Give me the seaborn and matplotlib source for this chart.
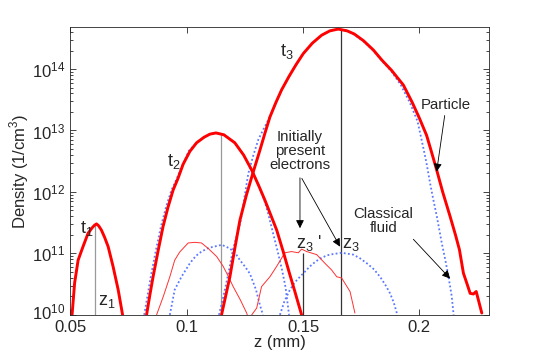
import numpy as np
import pandas as pd
import matplotlib
matplotlib.use('Agg')
import matplotlib.pyplot as plt
import matplotlib.transforms as mtransforms
import seaborn as sns

# values: z in mm, density as log10(1/cm^3)
t1_z = [0.0508, 0.0519, 0.0534, 0.0555, 0.0577, 0.0595, 0.0605, 0.0613, 0.0622, 0.0634, 0.0648,
        0.0663, 0.0684, 0.0706, 0.0725]
t1_logn = [10.0, 10.52, 10.89, 11.11, 11.33, 11.42, 11.46, 11.48, 11.45, 11.38, 11.26,
           11.11, 10.79, 10.41, 10.0]

t2_z = [0.0828, 0.0842, 0.0856, 0.0878, 0.0899, 0.0920, 0.0942, 0.0963, 0.0985, 0.1014, 0.1043,
        0.1075, 0.1100, 0.1126, 0.1160, 0.1207, 0.1245, 0.1279, 0.1310, 0.1336, 0.1362, 0.1387,
        0.1415, 0.1440, 0.1465, 0.1494]
t2_logn = [10.0, 10.32, 10.62, 11.05, 11.44, 11.75, 12.03, 12.22, 12.45, 12.66, 12.80,
           12.89, 12.94, 12.96, 12.93, 12.80, 12.60, 12.36, 12.10, 11.87, 11.62, 11.38,
           11.03, 10.70, 10.38, 10.0]

t3_z = [0.1150, 0.1168, 0.1186, 0.1207, 0.1229, 0.1257, 0.1285, 0.1315, 0.1336, 0.1358, 0.1383,
        0.1408, 0.1440, 0.1470, 0.1501, 0.1540, 0.1580, 0.1615, 0.1651, 0.1690, 0.1720, 0.1760,
        0.1802, 0.1840, 0.1880, 0.1931, 0.1970, 0.2000, 0.2031, 0.2052, 0.2074, 0.2100, 0.2132,
        0.2155, 0.2172, 0.2189, 0.2205, 0.2218, 0.2232, 0.2244, 0.2268]
t3_logn = [10.0, 10.31, 10.62, 11.08, 11.54, 11.95, 12.31, 12.68, 12.95, 13.22, 13.45,
           13.66, 13.88, 14.07, 14.25, 14.42, 14.55, 14.62, 14.65, 14.62, 14.57, 14.46,
           14.31, 14.14, 13.98, 13.74, 13.45, 13.20, 12.92, 12.65, 12.36, 12.00, 11.60,
           11.30, 11.06, 10.68, 10.50, 10.35, 10.34, 10.38, 10.03]

# classical fluid
f2_z = [0.0818, 0.0846, 0.0868, 0.0890, 0.0912, 0.0935, 0.0958, 0.0985, 0.1010, 0.1043, 0.1075,
        0.1100, 0.1126, 0.1160, 0.1207, 0.1245, 0.1279, 0.1310, 0.1336, 0.1350, 0.1370, 0.1390,
        0.1410, 0.1425, 0.1440]
f2_logn = [10.0, 10.62, 11.05, 11.44, 11.76, 12.03, 12.22, 12.46, 12.67, 12.80, 12.89,
           12.94, 12.96, 12.93, 12.80, 12.60, 12.37, 12.10, 11.84, 11.65, 11.35, 11.05,
           10.73, 10.45, 10.0]

f3_z = [0.1139, 0.1155, 0.1169, 0.1185, 0.1199, 0.1215, 0.1231, 0.1248, 0.1265, 0.1287, 0.1308,
        0.1330, 0.1351, 0.1380, 0.1408, 0.1440, 0.1470, 0.1501, 0.1540, 0.1580, 0.1615, 0.1651,
        0.1690, 0.1720, 0.1760, 0.1802, 0.1840, 0.1880, 0.1920, 0.1958, 0.1992, 0.2015, 0.2030,
        0.2046, 0.2060, 0.2075, 0.2096, 0.2112, 0.2125, 0.2139, 0.2147]
f3_logn = [10.0, 10.25, 10.49, 10.78, 11.06, 11.28, 11.50, 11.90, 12.30, 12.60, 12.85,
           13.02, 13.17, 13.42, 13.66, 13.88, 14.07, 14.25, 14.42, 14.55, 14.62, 14.65,
           14.62, 14.56, 14.45, 14.30, 14.13, 13.96, 13.74, 13.46, 13.15, 12.75, 12.48,
           12.14, 11.87, 11.60, 11.17, 10.88, 10.62, 10.30, 10.0]

# initially present electrons, particle
p2_z = [0.0871, 0.0900, 0.0928, 0.0949, 0.0970, 0.0992, 0.1007, 0.1035, 0.1064, 0.1093, 0.1129,
        0.1157, 0.1180, 0.1200, 0.1230, 0.1258, 0.1265]
p2_logn = [10.0, 10.30, 10.62, 10.89, 11.02, 11.11, 11.17, 11.18, 11.17, 11.08, 10.95,
           10.79, 10.62, 10.46, 10.25, 10.03, 9.95]
p3_z = [0.1270, 0.1301, 0.1322, 0.1358, 0.1387, 0.1422, 0.1451, 0.1480, 0.1494, 0.1516, 0.1559,
        0.1594, 0.1623, 0.1645, 0.1666, 0.1702, 0.1723]
p3_logn = [9.95, 10.11, 10.46, 10.62, 10.79, 11.01, 11.03, 11.01, 11.07, 11.03, 10.98,
           10.84, 10.73, 10.62, 10.60, 10.38, 10.03]

# initially present electrons, classical fluid
c2_z = [0.0928, 0.0949, 0.0978, 0.1014, 0.1040, 0.1064, 0.1095, 0.1129, 0.1151, 0.1186, 0.1210,
        0.1229, 0.1250, 0.1272, 0.1298, 0.1315, 0.1328]
c2_logn = [10.0, 10.41, 10.62, 10.84, 10.96, 11.03, 11.09, 11.12, 11.14, 11.08, 11.00,
           10.89, 10.79, 10.67, 10.41, 10.16, 10.0]
c3_z = [0.1401, 0.1420, 0.1444, 0.1465, 0.1487, 0.1510, 0.1530, 0.1555, 0.1580, 0.1605, 0.1630,
        0.1666, 0.1716, 0.1745, 0.1774, 0.1805, 0.1831, 0.1855, 0.1874, 0.1890, 0.1903]
c3_logn = [10.0, 10.22, 10.41, 10.53, 10.62, 10.71, 10.79, 10.87, 10.93, 10.97, 10.99,
           11.01, 10.98, 10.92, 10.84, 10.74, 10.62, 10.48, 10.35, 10.20, 10.03]

# peak markers
mark_z = [0.0608, 0.1146, 0.1498, 0.1663]
mark_logn = [11.48, 12.95, 11.01, 14.64]
mark_col = ['#999999', '#999999', '#333333', '#333333']

sns.set_style('ticks')
plt.rcParams['font.family'] = ['Liberation Sans', 'DejaVu Sans']
plt.rcParams['mathtext.fontset'] = 'custom'
plt.rcParams['mathtext.rm'] = 'Liberation Sans'

fig = plt.figure(figsize=(5.4, 3.57), dpi=100)
ax = fig.add_axes([0.13, 0.118, 0.776, 0.806])

blue = '#5a78ff'
dots = (0, (1, 1.3))


def curve(z, logn, **kw):
    df = pd.DataFrame({'z': z, 'n': np.power(10.0, logn)})
    sns.lineplot(data=df, x='z', y='n', ax=ax, sort=False, estimator=None, **kw)


for zz, ln, c in zip(mark_z, mark_logn, mark_col):
    ax.vlines(zz, 1e10, 10 ** ln, color=c, lw=0.9)

for zz, ln in [(c2_z, c2_logn), (c3_z, c3_logn), (f2_z, f2_logn), (f3_z, f3_logn)]:
    curve(zz, ln, color=blue, lw=1.3, ls=dots)
curve(p2_z, p2_logn, color='#ff3030', lw=0.7)
curve(p3_z, p3_logn, color='#ff3030', lw=0.7)
for zz, ln in [(t1_z, t1_logn), (t2_z, t2_logn), (t3_z, t3_logn)]:
    curve(zz, ln, color='#ff0000', lw=2.1)

ax.set_yscale('log')
ax.set_xlim(0.05, 0.23)
ax.set_ylim(1e10, 4.8e14)
ax.set_xticks([0.05, 0.1, 0.15, 0.2])
ax.set_xticklabels(['0.05', '0.1', '0.15', '0.2'])
ax.set_yticks([1e10, 1e11, 1e12, 1e13, 1e14])
ax.tick_params(which='both', direction='in', top=True, right=True, labelsize=12, width=0.6)
ax.tick_params(which='major', length=4)
ax.tick_params(which='minor', length=2)
ax.tick_params(axis='x', pad=3.5)
for s in ax.spines.values():
    s.set_linewidth(0.6)
ax.set_xlabel('z (mm)', fontsize=12, labelpad=0)
ax.set_ylabel('Density (1/cm$^3$)', fontsize=12, labelpad=1)

# lift the bottom y label a little so it clears the 0.05 label
lab0 = ax.get_yticklabels()[0]
lab0.set_transform(lab0.get_transform() + mtransforms.ScaledTranslation(0, 3 / 72, fig.dpi_scale_trans))

fs = 13
ax.text(0.0571, 10 ** 11.41, r'$\mathregular{t_1}$', fontsize=fs, ha='center', va='center')
ax.text(0.0945, 10 ** 12.50, r'$\mathregular{t_2}$', fontsize=fs, ha='center', va='center')
ax.text(0.1431, 10 ** 14.29, r'$\mathregular{t_3}$', fontsize=fs, ha='center', va='center')
ax.text(0.0657, 10 ** 10.21, r'$\mathregular{z_1}$', fontsize=fs, ha='center', va='center')
ax.text(0.1525, 10 ** 11.17, r"$\mathregular{z_3}$ '", fontsize=fs, ha='center', va='center')
ax.text(0.1706, 10 ** 11.14, r'$\mathregular{z_3}$', fontsize=fs, ha='center', va='center')

arw = dict(arrowstyle='-|>', color='black', lw=0.6, mutation_scale=12, shrinkA=0, shrinkB=0)
tfs = 10.8
ax.annotate('Particle', xy=(0.2074, 10 ** 12.33), xytext=(0.2115, 10 ** 13.41),
            fontsize=tfs, ha='center', va='center', arrowprops=arw)
ax.text(0.1487, 10 ** 12.66, 'Initially\npresent\nelectrons', fontsize=tfs,
        ha='center', va='center', linespacing=1.0)
ax.annotate('', xy=(0.1487, 10 ** 11.41), xytext=(0.1487, 10 ** 12.23), arrowprops=arw)
ax.annotate('', xy=(0.1659, 10 ** 11.11), xytext=(0.1495, 10 ** 12.22), arrowprops=arw)
ax.text(0.1845, 10 ** 11.52, 'Classical\nfluid', fontsize=tfs, ha='center', va='center',
        linespacing=1.0)
ax.annotate('', xy=(0.2132, 10 ** 10.59), xytext=(0.1974, 10 ** 11.23), arrowprops=arw)

fig.savefig('out.png', dpi=100)
